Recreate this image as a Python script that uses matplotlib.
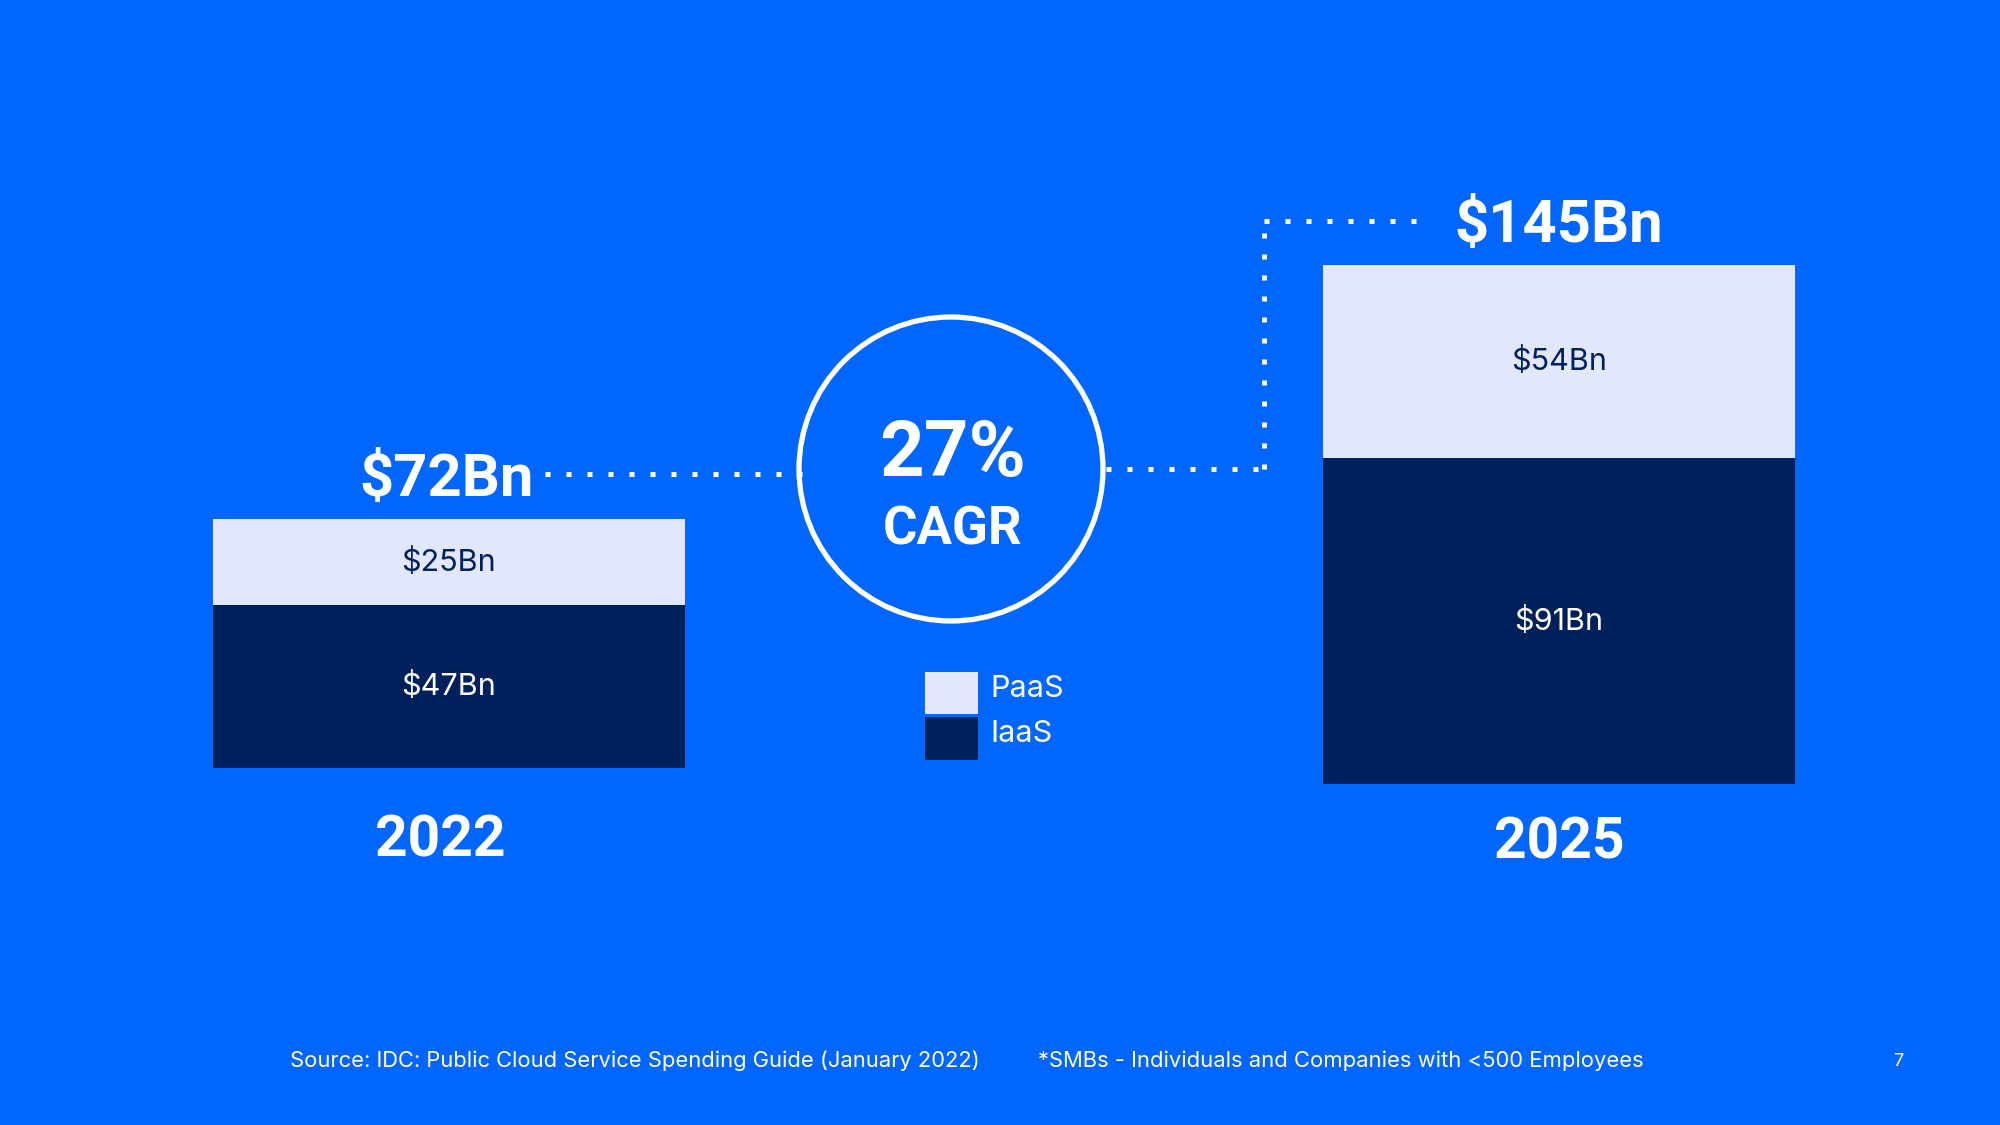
import matplotlib
matplotlib.use("Agg")
import matplotlib.pyplot as plt
from matplotlib.patches import Circle
from matplotlib.transforms import blended_transform_factory, ScaledTranslation

# ---- data ----
years = ["2022", "2025"]
iaas = [47, 91]
paas = [25, 54]
totals = ["$72Bn", "$145Bn"]
series_names = ["PaaS", "IaaS"]
cagr_value = "27%"
cagr_label = "CAGR"
source_note = "Source: IDC: Public Cloud Service Spending Guide (January 2022)"
smb_note = "*SMBs - Individuals and Companies with <500 Employees"
page_no = "7"

# ---- styles ----
BG = "#0066FF"
DARK = "#00205B"
LIGHT = "#E1E8FD"
WHITE = "#FFFFFF"
FONT = ["Inter", "DejaVu Sans"]
BOLD = ["Roboto", "DejaVu Sans"]
plt.rcParams["font.family"] = FONT

W, H = 2000, 1125
fig = plt.figure(figsize=(W / 100, H / 100), dpi=100, facecolor=BG)

def px_rect(x0, y_top, x1, y_bottom):
    return [x0 / W, 1 - y_bottom / H, (x1 - x0) / W, (y_bottom - y_top) / H]

# bar axes positions (pixel boxes)
boxes = [px_rect(213, 519, 685, 768), px_rect(1323, 265, 1795, 784)]
year_y = [841, 843]
year_dx = [-6.5, 0]
total_dx = [-2, 0]
bar_axes = []
bars_for_legend = {}
for i, box in enumerate(boxes):
    ax = fig.add_axes(box)
    ax.set_facecolor("none")
    ax.axis("off")
    total = iaas[i] + paas[i]
    ax.set_xlim(-0.5, 0.5)
    ax.set_ylim(0, total)
    b1 = ax.bar(0, iaas[i], width=1.0, color=DARK, label=series_names[1])
    b2 = ax.bar(0, paas[i], bottom=iaas[i], width=1.0, color=LIGHT, label=series_names[0])
    bars_for_legend["IaaS"] = b1
    bars_for_legend["PaaS"] = b2
    ax.text(0, iaas[i] / 2, f"${iaas[i]}Bn", ha="center", va="center",
            color=WHITE, fontsize=22)
    ax.text(0, iaas[i] + paas[i] / 2, f"${paas[i]}Bn", ha="center", va="center",
            color=DARK, fontsize=22)
    ax.annotate(totals[i], xy=(0, total), xytext=(total_dx[i], 28),
                textcoords="offset points", ha="center", va="center", color=WHITE,
                fontsize=43, fontweight="bold", family=BOLD)
    ax.annotate(years[i], xy=(0, 1 - year_y[i] / H),
                xycoords=blended_transform_factory(ax.transData, fig.transFigure),
                xytext=(year_dx[i], 0), textcoords="offset points",
                ha="center", va="center", color=WHITE,
                fontsize=41, fontweight="bold", family=BOLD)
    bar_axes.append(ax)

# overlay in pixel coordinates for decorations
ov = fig.add_axes([0, 0, 1, 1])
ov.set_xlim(0, W)
ov.set_ylim(H, 0)
ov.set_facecolor("none")
ov.axis("off")

cx, cy, r = 951, 469, 152
ov.add_patch(Circle((cx, cy), r, fill=False, edgecolor=WHITE, linewidth=3.8))
ov.text(cx + 2, cy - 14, cagr_value, ha="center", va="center", color=WHITE,
        fontsize=56, fontweight="bold", family=BOLD)
ov.text(cx + 2, cy + 61, cagr_label, ha="center", va="center", color=WHITE,
        fontsize=38, fontweight="bold", family=BOLD)

dot = dict(color=WHITE, linewidth=3.6, linestyle=(0, (1, 3.2)), dash_capstyle="butt")
ov.plot([545, cx - r + 4], [474, 474], **dot)
ov.plot([cx + r + 3, 1264], [469, 469], **dot)
ov.plot([1264, 1264], [469, 222], **dot)
ov.plot([1264, 1429], [221, 221], **dot)

leg = fig.legend(handles=[bars_for_legend["PaaS"], bars_for_legend["IaaS"]],
                 labels=series_names, loc="upper left",
                 bbox_to_anchor=(925 / W, 1 - 672 / H), frameon=False,
                 fontsize=22, handlelength=1.75, handleheight=1.75,
                 handletextpad=0.4, labelspacing=0.1, borderpad=0,
                 borderaxespad=0)
for t in leg.get_texts():
    t.set_color(WHITE)
    t.set_transform(t.get_transform() + ScaledTranslation(0, 0.06, fig.dpi_scale_trans))

ov.text(290, 1061, source_note, ha="left", va="center", color=WHITE, fontsize=15.8)
ov.text(1038, 1061, smb_note, ha="left", va="center", color=WHITE, fontsize=15.85)
ov.text(1898, 1062, page_no, ha="center", va="center", color=WHITE, fontsize=13)

fig.savefig("out.png", dpi=100, facecolor=BG)
